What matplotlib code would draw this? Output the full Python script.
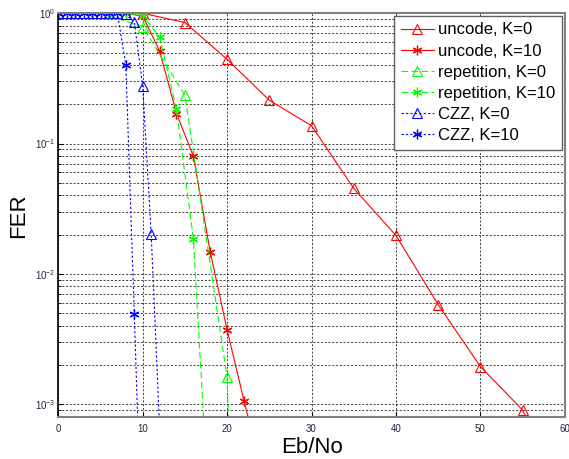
import numpy as np
import matplotlib
matplotlib.use('Agg')
import matplotlib.pyplot as plt
from matplotlib.ticker import LogLocator, NullFormatter, MultipleLocator

plt.rcParams['font.family'] = ['Liberation Sans', 'DejaVu Sans']

# FER vs Eb/No, uncoded
ebno_unc_k0 = [0, 5, 10, 15, 20, 25, 30, 35, 40, 45, 50, 55, 60]
fer_unc_k0 = [1, 1, 1, 0.85, 0.443, 0.215, 0.137, 0.0453, 0.0197, 0.0058, 0.00194, 0.0009, 2e-4]
ebno_unc_k10 = [0, 2, 4, 6, 8, 10, 12, 14, 16, 18, 20, 22, 24]
fer_unc_k10 = [1, 1, 1, 1, 1, 0.95, 0.515, 0.17, 0.080, 0.0147, 0.0037, 0.00106, 3.2e-4]

# repetition code
ebno_rep_k0 = [0, 5, 10, 15, 20, 25]
fer_rep_k0 = [1, 1, 0.79, 0.235, 0.0016, 3e-13]
ebno_rep_k10 = [0, 2, 4, 6, 8, 10, 12, 14, 16, 18]
fer_rep_k10 = [1, 1, 1, 1, 1, 0.96, 0.66, 0.183, 0.0186, 1e-4]

# CZZ
ebno_czz_k0 = [0, 1, 2, 3, 4, 5, 6, 7, 8, 9, 10, 11, 12]
fer_czz_k0 = [1, 1, 1, 1, 1, 1, 1, 1, 0.98, 0.86, 0.276, 0.0203, 6.6e-4]
ebno_czz_k10 = [0, 1, 2, 3, 4, 5, 6, 7, 8, 9, 10]
fer_czz_k10 = [1, 1, 1, 1, 1, 1, 1, 1, 0.40, 0.0049, 5e-5]

ASTER = (6, 2, 0)

fig = plt.figure(figsize=(5.69, 4.59), dpi=100)
ax = fig.add_axes([0.1025, 0.0908, 0.8900, 0.8802])

ax.semilogy(ebno_unc_k0, fer_unc_k0, color='r', ls='-', lw=0.8, marker='^',
            mfc='none', ms=6.5, mew=0.8, label='uncode, K=0')
ax.semilogy(ebno_unc_k10, fer_unc_k10, color='r', ls='-', lw=0.8, marker=ASTER,
            ms=7, mew=0.9, label='uncode, K=10')
ax.semilogy(ebno_rep_k0, fer_rep_k0, color='#00ff00', ls=(0, (6, 3)), lw=0.8, marker='^',
            mfc='none', ms=6.5, mew=0.8, label='repetition, K=0')
ax.semilogy(ebno_rep_k10, fer_rep_k10, color='#00ff00', ls=(0, (6, 3)), lw=0.8, marker=ASTER,
            ms=7, mew=0.9, label='repetition, K=10')
ax.semilogy(ebno_czz_k0, fer_czz_k0, color='b', ls=(0, (2, 2)), lw=0.8, marker='^',
            mfc='none', ms=6.5, mew=0.8, label='CZZ, K=0')
ax.semilogy(ebno_czz_k10, fer_czz_k10, color='b', ls=(0, (2, 2)), lw=0.8, marker=ASTER,
            ms=7, mew=0.9, label='CZZ, K=10')

ax.set_xlim(0, 60)
ax.set_ylim(7.9e-4, 1)
ax.xaxis.set_major_locator(MultipleLocator(10))
ax.yaxis.set_major_locator(LogLocator(base=10))
ax.yaxis.set_minor_locator(LogLocator(base=10, subs=np.arange(2, 10)))
ax.yaxis.set_minor_formatter(NullFormatter())

grid_style = dict(color='black', ls=(0, (2.5, 2)), lw=0.6, alpha=0.85)
ax.grid(True, which='major', axis='both', **grid_style)
ax.grid(True, which='minor', axis='y', **grid_style)

ax.tick_params(which='both', direction='in', labelsize=7, labelcolor='#222244')
ax.tick_params(axis='x', pad=5)
ax.tick_params(axis='y', pad=2)

for side in ['top', 'right', 'bottom']:
    ax.spines[side].set_color('#808080')
    ax.spines[side].set_linewidth(1.5)
ax.spines['left'].set_color('black')
ax.spines['left'].set_linewidth(1.2)

ax.set_xlabel('Eb/No', fontsize=16, labelpad=2)
ax.set_ylabel('FER', fontsize=16, labelpad=4)

leg = ax.legend(loc='upper right', fontsize=12, frameon=True, fancybox=False,
                borderaxespad=0.15, labelspacing=0.37, handlelength=2.0,
                handletextpad=0.26, borderpad=0.4, framealpha=1)
leg.get_frame().set_edgecolor('#606060')
leg.get_frame().set_linewidth(1.0)

fig.savefig('out.png', dpi=100)
